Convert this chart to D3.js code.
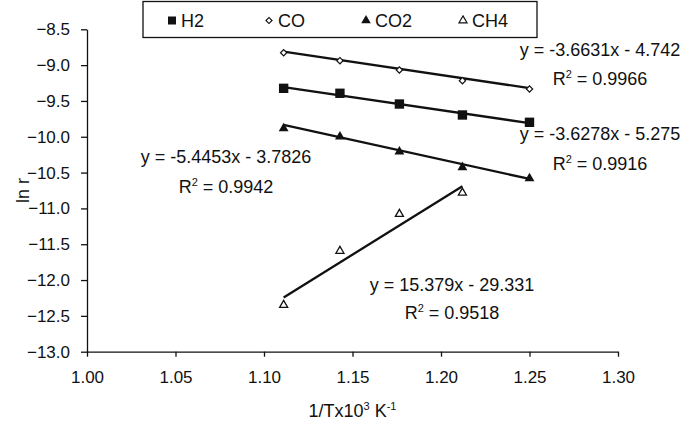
<!DOCTYPE html>
<html>
<head>
<meta charset="utf-8">
<script src="https://cdn.jsdelivr.net/npm/d3@7"></script>
<style>
  body { margin: 0; background: #fff; }
  svg text { font-family: "Liberation Sans", Arial, sans-serif; fill: #111; }
</style>
</head>
<body>
<div id="graph"></div>
<script>
// 1/T (x10^3 K^-1) for 900, 875, 850, 825, 800 K
var invT = [1.1111, 1.1429, 1.1765, 1.2121, 1.2500];

var seriesNames = ["H2", "CO", "CO2", "CH4"];
var h2 = [-9.324, -9.393, -9.543, -9.696, -9.798];
var co = [-8.827, -8.938, -9.068, -9.217, -9.333];
var co2 = [-9.882, -9.999, -10.209, -10.426, -10.580];
var ch4 = [-12.348, -11.594, -11.078, -10.781];

// trendline fits
var slopes = [-3.6278, -3.6631, -5.4453, 15.379];
var intercepts = [-5.275, -4.742, -3.7826, -29.331];
var eqTexts = ["y = -3.6278x - 5.275", "y = -3.6631x - 4.742", "y = -5.4453x - 3.7826", "y = 15.379x - 29.331"];
var r2Texts = ["0.9916", "0.9966", "0.9942", "0.9518"];

var xTicks = [1.00, 1.05, 1.10, 1.15, 1.20, 1.25, 1.30];
var yTicks = [-13.0, -12.5, -12.0, -11.5, -11.0, -10.5, -10.0, -9.5, -9.0, -8.5];

(function () {
  var width = 685;
  var height = 426;
  var padL = 87, padR = 618, padT = 29.3, padB = 351.7;

  var svg = d3.select("#graph").
  append("svg").
  attr("width", width).
  attr("height", height);

  var xScale = d3.scaleLinear().domain([1.00, 1.30]).range([padL, padR]);
  var yScale = d3.scaleLinear().domain([-13.0, -8.5]).range([padB, padT]);

  var xAxis = d3.axisBottom(xScale).tickValues(xTicks).tickFormat(d3.format(".2f")).
  tickSize(5).tickSizeOuter(0).tickPadding(14);
  var yAxis = d3.axisLeft(yScale).tickValues(yTicks).tickFormat(d3.format(".1f")).
  tickSize(6).tickSizeOuter(0).tickPadding(11);

  var gx = svg.append("g").
  attr("transform", "translate(0," + padB + ")").
  call(xAxis);
  var gy = svg.append("g").
  attr("transform", "translate(" + padL + ",0)").
  call(yAxis);

  [gx, gy].forEach(function (g) {
    g.selectAll("path, line").attr("stroke", "#111").attr("stroke-width", 1.3);
    g.selectAll("text").style("font-size", "17px").attr("fill", "#111");
  });

  // axis titles
  var xt = svg.append("text").
  attr("x", (padL + padR) / 2).
  attr("y", 417).
  style("text-anchor", "middle").
  style("font-size", "18px");
  xt.append("tspan").text("1/Tx10");
  xt.append("tspan").attr("dy", -7).style("font-size", "11px").text("3");
  xt.append("tspan").attr("dy", 7).text(" K");
  xt.append("tspan").attr("dy", -7).style("font-size", "11px").text("-1");

  svg.append("text").
  attr("transform", "translate(29," + (padT + padB) / 2 + ") rotate(-90)").
  style("text-anchor", "middle").
  style("font-size", "18px").
  text("ln r");

  // markers
  var markers = [
  { type: d3.symbolSquare, size: 88, fill: "#111", rot: 0, sw: 0 },
  { type: d3.symbolSquare, size: 20, fill: "#fff", rot: 45, sw: 1.2 },
  { type: d3.symbolTriangle, size: 42, fill: "#111", rot: 0, sw: 0 },
  { type: d3.symbolTriangle, size: 28, fill: "#fff", rot: 0, sw: 1.3 }];

  var legendMarkers = [
  { type: d3.symbolSquare, size: 64, fill: "#111", rot: 0, sw: 0 },
  { type: d3.symbolSquare, size: 18, fill: "#fff", rot: 45, sw: 1.2 },
  { type: d3.symbolTriangle, size: 40, fill: "#111", rot: 0, sw: 0 },
  { type: d3.symbolTriangle, size: 28, fill: "#fff", rot: 0, sw: 1.2 }];

  var allSeries = [h2, co, co2, ch4];

  allSeries.forEach(function (vals, i) {
    var x0 = invT[0], x1 = invT[vals.length - 1];
    svg.append("line").
    attr("x1", xScale(x0)).
    attr("y1", yScale(slopes[i] * x0 + intercepts[i])).
    attr("x2", xScale(x1)).
    attr("y2", yScale(slopes[i] * x1 + intercepts[i])).
    attr("stroke", "#111").
    attr("stroke-width", 2.3);
  });

  allSeries.forEach(function (vals, i) {
    var m = markers[i];
    svg.selectAll(".pt" + i).
    data(vals).
    enter().
    append("path").
    attr("class", "pt" + i).
    attr("d", d3.symbol().type(m.type).size(m.size)).
    attr("transform", function (d, j) {
      return "translate(" + xScale(invT[j]) + "," + yScale(d) + ") rotate(" + m.rot + ")";
    }).
    attr("fill", m.fill).
    attr("stroke", m.sw ? "#111" : "none").
    attr("stroke-width", m.sw);
  });

  // equation labels: [center x, baseline of eq line, baseline of R2 line]
  var eqPos = [[600, 56, 85], [600, 140, 170], [226, 163, 193], [452, 291, 319]];
  var eqOrder = [1, 0, 2, 3];

  eqPos.forEach(function (p, k) {
    var i = eqOrder[k];
    svg.append("text").
    attr("x", p[0]).
    attr("y", p[1]).
    style("text-anchor", "middle").
    style("font-size", "18px").
    text(eqTexts[i]);

    var r = svg.append("text").
    attr("x", p[0]).
    attr("y", p[2]).
    style("text-anchor", "middle").
    style("font-size", "18px");
    r.append("tspan").text("R");
    r.append("tspan").attr("dy", -7).style("font-size", "11px").text("2");
    r.append("tspan").attr("dy", 7).text(" = " + r2Texts[i]);
  });

  // legend
  var legend = svg.append("g").attr("id", "legend");

  legend.append("rect").
  attr("x", 143).
  attr("y", 1.5).
  attr("width", 394).
  attr("height", 36).
  attr("fill", "#fff").
  attr("stroke", "#111").
  attr("stroke-width", 1.3);

  seriesNames.forEach(function (name, i) {
    var cx = 172 + i * 97;
    var m = legendMarkers[i];
    legend.append("path").
    attr("d", d3.symbol().type(m.type).size(m.size)).
    attr("transform", "translate(" + cx + ",20.5) rotate(" + m.rot + ")").
    attr("fill", m.fill).
    attr("stroke", m.sw ? "#111" : "none").
    attr("stroke-width", m.sw);
    legend.append("text").
    attr("x", cx + 9).
    attr("y", 26.8).
    style("font-size", "18px").
    text(name);
  });
})();
</script>
</body>
</html>
